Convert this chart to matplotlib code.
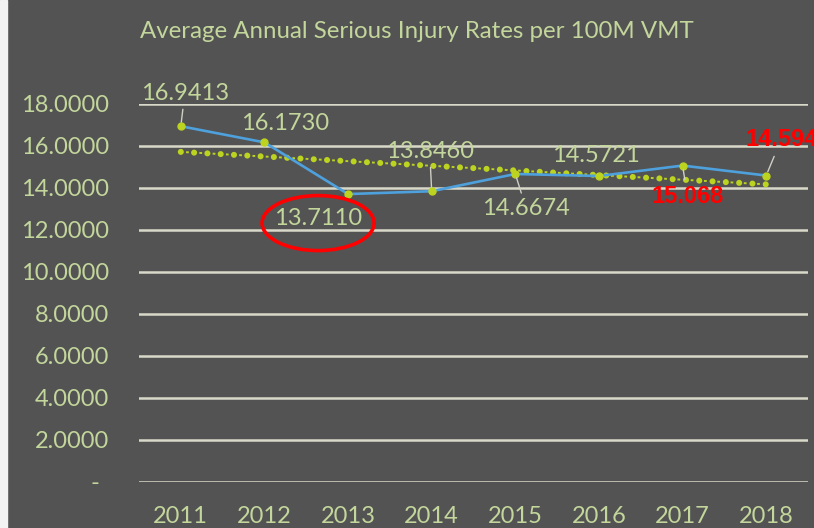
import matplotlib
matplotlib.use("Agg")
import matplotlib.pyplot as plt
import matplotlib.transforms as mtransforms
from matplotlib.patches import Ellipse, Rectangle
import numpy as np

years = ["2011", "2012", "2013", "2014", "2015", "2016", "2017", "2018"]
rates = [16.9413, 16.1730, 13.7110, 13.8460, 14.6674, 14.5721, 15.068, 14.594]
label_texts = ["16.9413", "16.1730", "13.7110", "13.8460", "14.6674", "14.5721", "15.068", "14.594"]
yticks = [0, 2, 4, 6, 8, 10, 12, 14, 16, 18]
title = "Average Annual Serious Injury Rates per 100M VMT"

BG = "#535353"
TXT = "#c3d69b"
MARK = "#bcd31f"
BLUE = "#4ea1dc"
GRID = "#d9d9c9"
RED = "#ff0000"
LEAD = "#cfcfc4"

plt.rcParams["font.family"] = ["Lato", "DejaVu Sans"]
plt.rcParams["lines.scale_dashes"] = False

W, H = 814, 528
fig = plt.figure(figsize=(W / 100, H / 100), dpi=100, facecolor=BG)
ax = fig.add_axes([139 / W, 1 - 482 / H, (808 - 139) / W, (482 - 104) / H])
ax.set_facecolor(BG)
fig.patches.append(Rectangle((0, 0), 7 / W, 1, transform=fig.transFigure,
                             color="#f2f2f2", zorder=0))

x = np.arange(len(years))
ax.set_xlim(-0.5, len(years) - 0.5)
ax.set_ylim(0, 18)

for s in ax.spines.values():
    s.set_visible(False)

ax.set_yticks(yticks)
ax.set_yticklabels(["-" if v == 0 else f"{v:.4f}" for v in yticks])
ax.grid(axis="y", color=GRID, lw=1.8)
ax.set_axisbelow(True)
ax.tick_params(axis="y", length=0, pad=21.5, labelsize=17, labelcolor=TXT)
ax.set_xticks(x)
ax.set_xticklabels(years)
ax.tick_params(axis="x", length=0, pad=17, labelsize=17, labelcolor=TXT)
# accounting-style dash sits left of the right edge
for lab in ax.get_yticklabels():
    if lab.get_text() == "-":
        lab.set_transform(lab.get_transform() +
                          mtransforms.ScaledTranslation(-10 / 100, 0, fig.dpi_scale_trans))

# linear trendline (least squares on the data, as in the spreadsheet)
coef = np.polyfit(x, rates, 1)
trend = np.polyval(coef, x)
sp = 13.3 * 0.72
ax.plot(x, trend, color=MARK, lw=4.4, ls=(0, (0.01, sp)),
        dash_capstyle="round", zorder=2)
ax.plot(x, trend, color=MARK, lw=1.4, ls=(-sp / 2 + 1.0, (2.0, sp - 2.0)),
        zorder=2)

ax.plot(x, rates, color=BLUE, lw=1.9, zorder=3)
ax.plot(x, rates, ls="none", marker="o", ms=5, color=MARK, mec=MARK, zorder=4)

# label offsets in pixels (dx right, dy up) and whether a leader line is shown
offsets = [(4, 33), (21, 19), (-30, -24), (-2, 40), (11, -35), (-3, 20), (5, -31), (15, 36)]
leaders = [True, False, False, True, True, False, True, True]
colors = [TXT, TXT, TXT, TXT, TXT, TXT, RED, RED]
bold = [False] * 6 + [True, True]

for i, (xi, yi) in enumerate(zip(x, rates)):
    dx, dy = offsets[i]
    ap = None
    if leaders[i]:
        ap = dict(arrowstyle="-", color=LEAD, lw=1.0, shrinkA=2, shrinkB=3)
    kw = dict(fontsize=17)
    if bold[i]:
        kw = dict(fontsize=17, fontweight="bold",
                  family=["Liberation Sans", "DejaVu Sans"])
    ax.annotate(label_texts[i], xy=(xi, yi), xytext=(dx * 0.72, dy * 0.72),
                textcoords="offset points", ha="center", va="center",
                color=colors[i], arrowprops=ap, annotation_clip=False,
                zorder=5, **kw)

# red ellipse around the 2013 label
px = (ax.transData.transform((1, 0))[0] - ax.transData.transform((0, 0))[0])
py = (ax.transData.transform((0, 1))[1] - ax.transData.transform((0, 0))[1])
cx = x[2] + (-30) / px
cy = rates[2] + (-29) / py
ax.add_patch(Ellipse((cx, cy), 112 / px, 55 / py, fill=False, ec=RED, lw=2.6,
                     clip_on=False, zorder=6))

fig.text(417 / W, 1 - 32 / H, title, ha="center", va="center",
         fontsize=17.3, color=TXT)

fig.savefig("out.png", dpi=100, facecolor=BG)
